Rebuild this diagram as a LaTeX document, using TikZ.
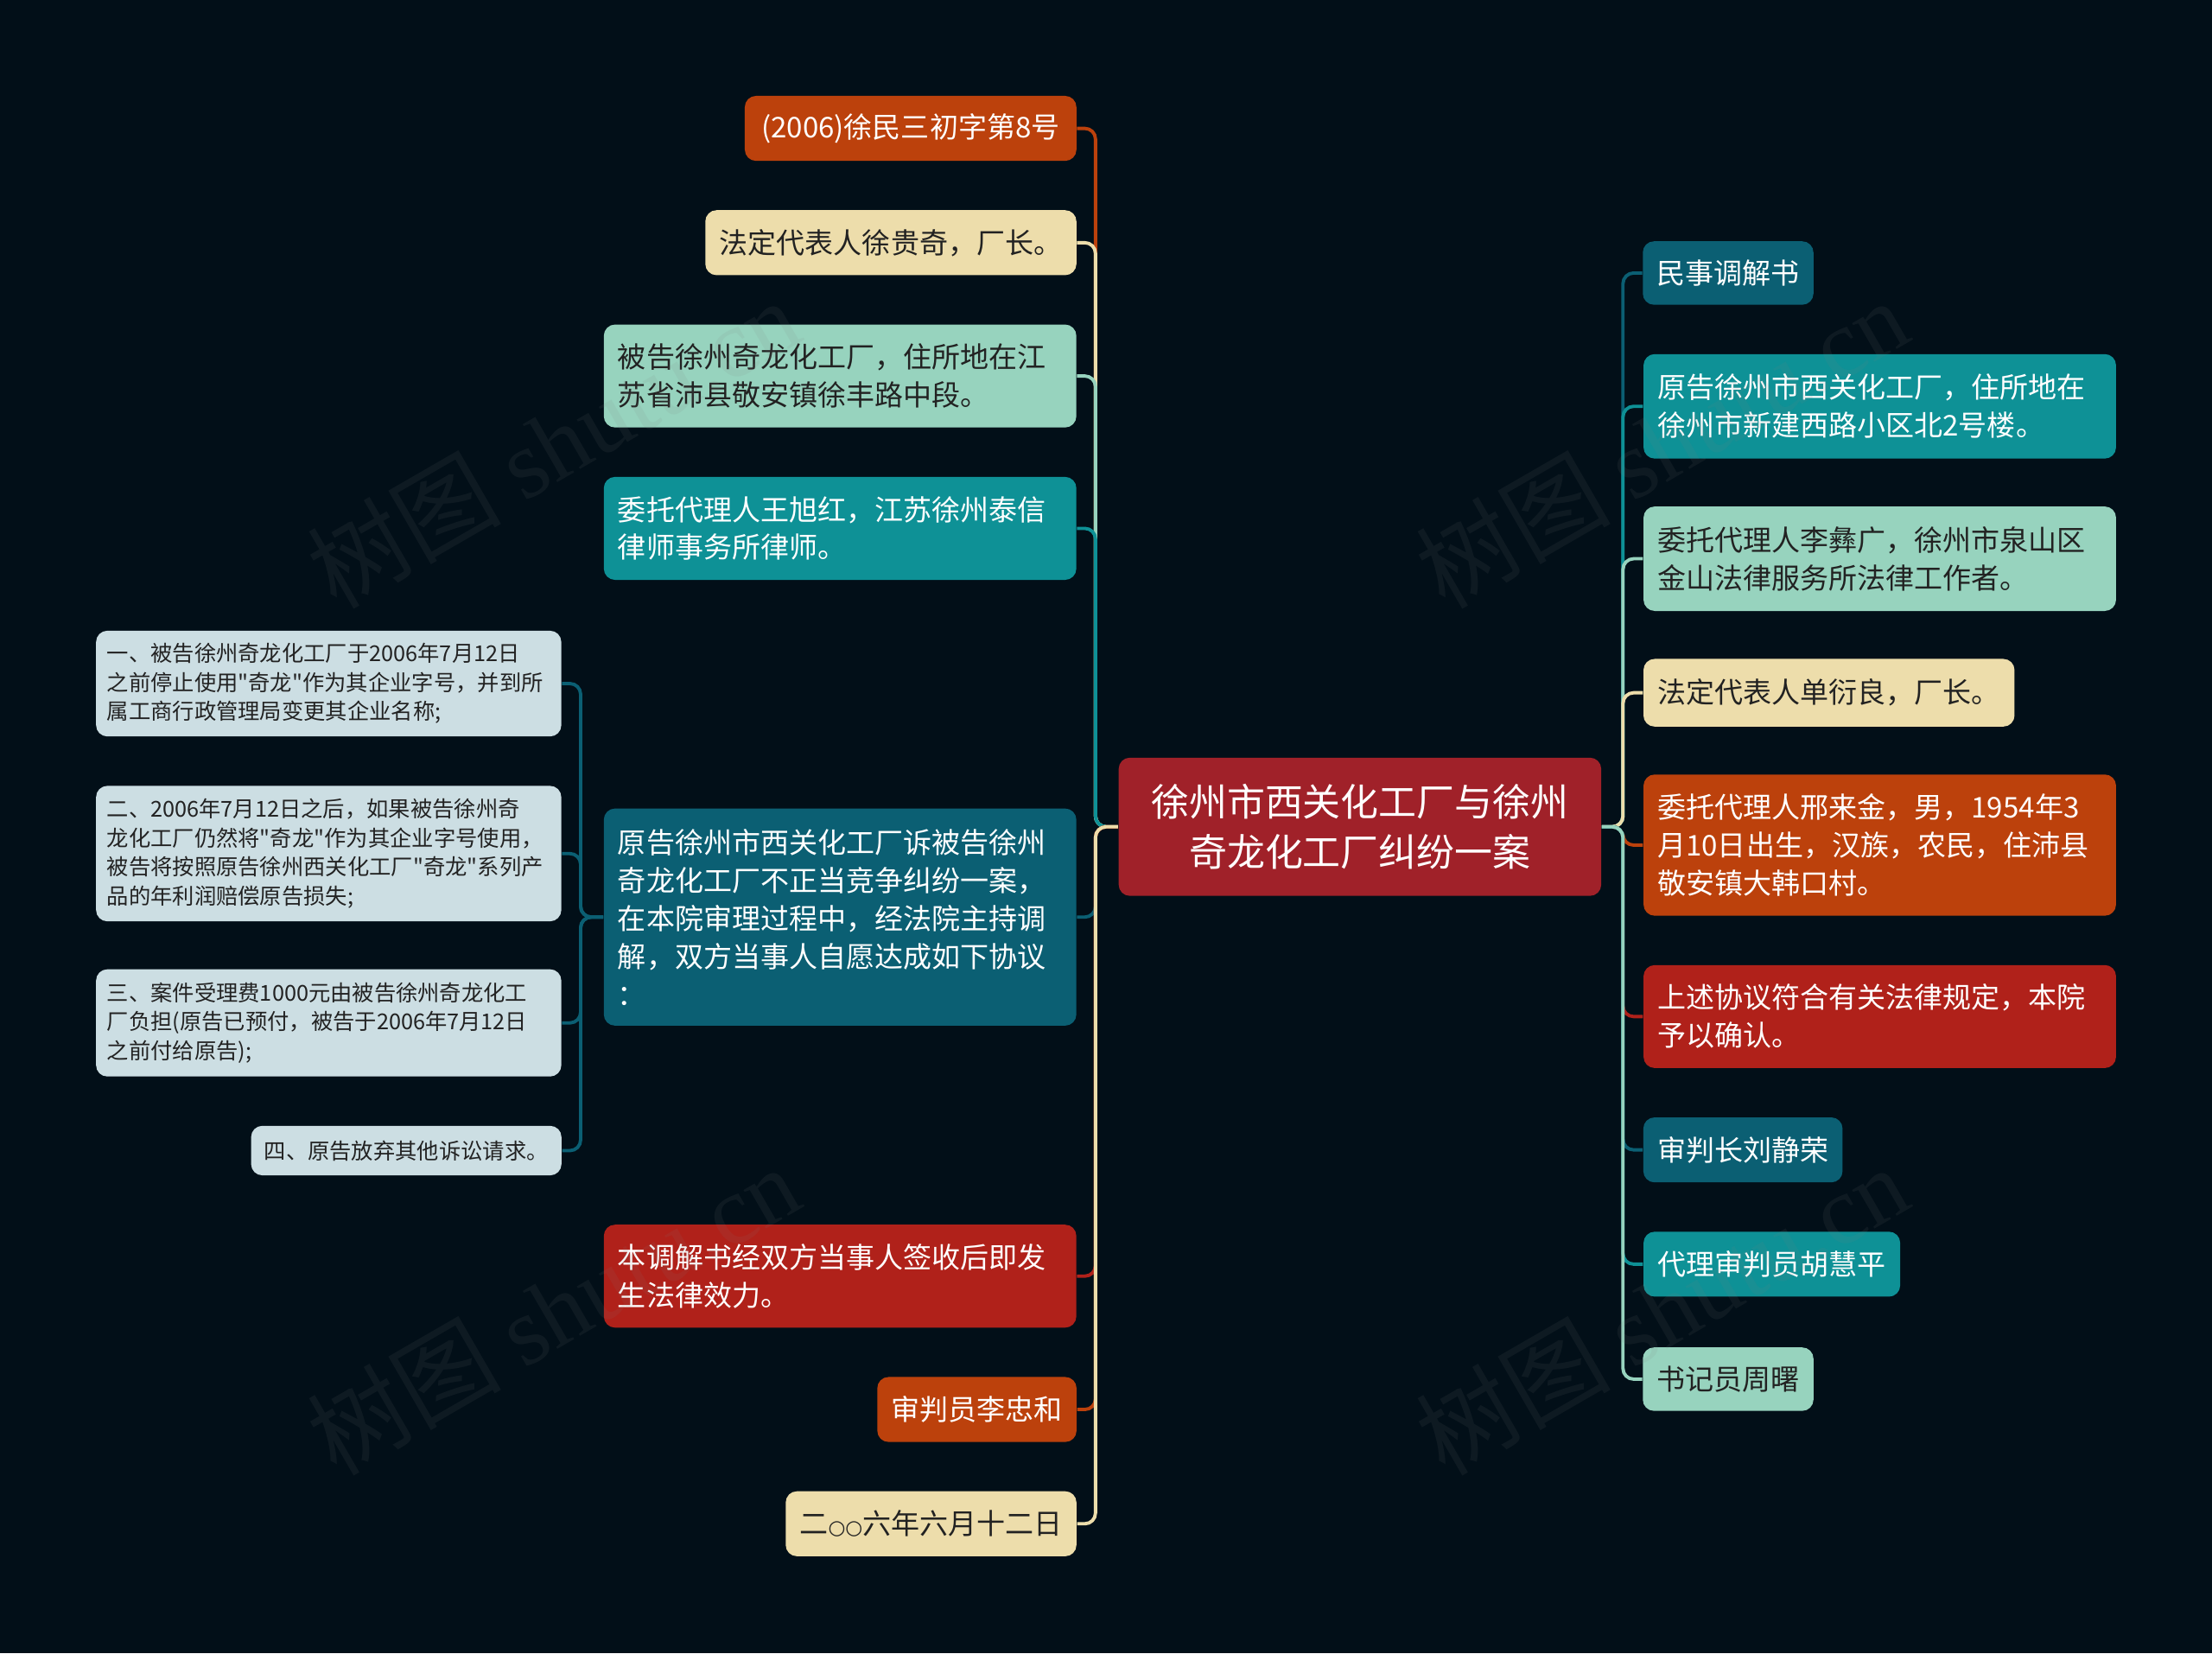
\documentclass[tikz,border=0pt]{standalone}
\usepackage{fontspec}
\setmainfont{Noto Sans CJK SC}
\newfontfamily\cjk{Noto Sans CJK SC}
\newfontfamily\wmfont{Liberation Serif}
\newfontfamily\symfont{DejaVu Sans}
\definecolor{cBg}{HTML}{020F18}
\definecolor{cOrange}{HTML}{BC410C}
\definecolor{cBeige}{HTML}{EDDDAB}
\definecolor{cMint}{HTML}{97D3BE}
\definecolor{cTeal}{HTML}{0E9196}
\definecolor{cDeep}{HTML}{0B5F73}
\definecolor{cRed}{HTML}{B0211A}
\definecolor{cCenter}{HTML}{A02129}
\definecolor{cGrey}{HTML}{CCDEE3}
\definecolor{cDark}{HTML}{222222}
\newcommand{\smallcirc}{{\symfont\fontsize{6.5pt}{6.5pt}\selectfont ○}}
\tikzset{
  base/.style={rounded corners=3.7pt, inner xsep=4.6pt, inner ysep=0pt,
    font=\cjk\fontsize{9.4pt}{12.5pt}\selectfont},
  multi/.style={text width=#1, align=left},
  fOrange/.style={fill=cOrange, text=white},
  fBeige/.style={fill=cBeige, text=cDark},
  fMint/.style={fill=cMint, text=cDark},
  fTeal/.style={fill=cTeal, text=white},
  fDeep/.style={fill=cDeep, text=white},
  fRed/.style={fill=cRed, text=white},
  sub/.style={rounded corners=3.7pt, inner xsep=3.6pt, inner ysep=0pt,
    fill=cGrey, text=cDark, font=\cjk\fontsize{7.2pt}{9.5pt}\selectfont},
  conn/.style={line width=1.1pt, rounded corners=3.5pt},
  wm/.style={rotate=30, text=gray, text opacity=0.1,
    font=\cjk\fontsize{32pt}{32pt}\selectfont}
}
\begin{document}
\begin{tikzpicture}[x=0.0163265cm, y=-0.0163265cm]
\fill[cBg] (0,0) rectangle (1568,1172);
\useasboundingbox (0,0) rectangle (1568,1172);

% center
\node[base, fill=cCenter, text=white, font=\cjk\fontsize{12.5pt}{16.7pt}\selectfont,
  align=center, minimum width=158.9pt, minimum height=45.5pt] (C) at (964,586)
  {徐州市西关化工厂与徐州\\奇龙化工厂纠纷一案};

% left branch
\node[base,fOrange,minimum width=109.2pt,minimum height=21.4pt] (L1) at (645.5,91) {(2006)徐民三初字第8号};
\node[base,fBeige,minimum width=122.2pt,minimum height=21.4pt] (L2) at (631.5,172) {法定代表人徐贵奇，厂长。};
\node[base,fMint,multi=146.4pt,minimum height=33.9pt] (L3) at (595.5,266.5) {被告徐州奇龙化工厂，住所地在江\\苏省沛县敬安镇徐丰路中段。};
\node[base,fTeal,multi=146.4pt,minimum height=33.9pt] (L4) at (595.5,374.5) {委托代理人王旭红，江苏徐州泰信\\律师事务所律师。};
\node[base,fDeep,multi=146.4pt,minimum height=71.5pt] (L5) at (595.5,650) {原告徐州市西关化工厂诉被告徐州\\奇龙化工厂不正当竞争纠纷一案，\\在本院审理过程中，经法院主持调\\解，双方当事人自愿达成如下协议\\：};
\node[base,fRed,multi=146.4pt,minimum height=33.9pt] (L6) at (595.5,904.5) {本调解书经双方当事人签收后即发\\生法律效力。};
\node[base,fOrange,minimum width=65.5pt,minimum height=21.4pt] (L7) at (692.5,999) {审判员李忠和};
\node[base,fBeige,minimum width=95.7pt,minimum height=21.4pt] (L8) at (660,1080) {二\smallcirc\smallcirc 六年六月十二日};

% agreement items
\node[sub,text width=146pt,align=left,minimum height=34.8pt] (S1) at (233,484.5) {一、被告徐州奇龙化工厂于2006年7月12日\\之前停止使用"奇龙"作为其企业字号，并到所\\属工商行政管理局变更其企业名称;};
\node[sub,text width=146pt,align=left,minimum height=44.6pt] (S2) at (233,605) {二、2006年7月12日之后，如果被告徐州奇\\龙化工厂仍然将"奇龙"作为其企业字号使用，\\被告将按照原告徐州西关化工厂"奇龙"系列产\\品的年利润赔偿原告损失;};
\node[sub,text width=146pt,align=left,minimum height=35.3pt] (S3) at (233,725) {三、案件受理费1000元由被告徐州奇龙化工\\厂负担(原告已预付，被告于2006年7月12日\\之前付给原告);};
\node[sub,minimum width=102.2pt,minimum height=16.3pt] (S4) at (288,815.5) {四、原告放弃其他诉讼请求。};

% right branch
\node[base,fDeep,minimum width=55.7pt,minimum height=20.9pt] (R1) at (1225,193.5) {民事调解书};
\node[base,fTeal,multi=146.4pt,minimum height=34.4pt] (R2) at (1332.5,288) {原告徐州市西关化工厂，住所地在\\徐州市新建西路小区北2号楼。};
\node[base,fMint,multi=146.4pt,minimum height=34.4pt] (R3) at (1332.5,396) {委托代理人李彝广，徐州市泉山区\\金山法律服务所法律工作者。};
\node[base,fBeige,minimum width=122.2pt,minimum height=22.3pt] (R4) at (1296.5,491) {法定代表人单衍良，厂长。};
\node[base,fOrange,multi=146.4pt,minimum height=46.5pt] (R5) at (1332.5,599) {委托代理人邢来金，男，1954年3\\月10日出生，汉族，农民，住沛县\\敬安镇大韩口村。};
\node[base,fRed,multi=146.4pt,minimum height=33.9pt] (R6) at (1332.5,720.5) {上述协议符合有关法律规定，本院\\予以确认。};
\node[base,fDeep,minimum width=65.5pt,minimum height=21.4pt] (R7) at (1235.5,815) {审判长刘静荣};
\node[base,fTeal,minimum width=84.5pt,minimum height=21.4pt] (R8) at (1256,896) {代理审判员胡慧平};
\node[base,fMint,minimum width=55.7pt,minimum height=20.9pt] (R9) at (1225,977.5) {书记员周曙};

% left connectors
\draw[conn,cOrange] (C.west) -- ++(-16,0) |- (L1.east);
\draw[conn,cBeige]  (C.west) -- ++(-16,0) |- (L2.east);
\draw[conn,cMint]   (C.west) -- ++(-16,0) |- (L3.east);
\draw[conn,cTeal]   (C.west) -- ++(-16,0) |- (L4.east);
\draw[conn,cDeep]   (C.west) -- ++(-16,0) |- (L5.east);
\draw[conn,cRed]    (C.west) -- ++(-16,0) |- (L6.east);
\draw[conn,cOrange] (C.west) -- ++(-16,0) |- (L7.east);
\draw[conn,cBeige]  (C.west) -- ++(-16,0) |- (L8.east);

% sub connectors
\draw[conn,cDeep] (L5.west) -- ++(-16,0) |- (S1.east);
\draw[conn,cDeep] (L5.west) -- ++(-16,0) |- (S2.east);
\draw[conn,cDeep] (L5.west) -- ++(-16,0) |- (S3.east);
\draw[conn,cDeep] (L5.west) -- ++(-16,0) |- (S4.east);

% right connectors
\draw[conn,cDeep]   (C.east) -- ++(15,0) |- (R1.west);
\draw[conn,cTeal]   (C.east) -- ++(15,0) |- (R2.west);
\draw[conn,cMint]   (C.east) -- ++(15,0) |- (R3.west);
\draw[conn,cBeige]  (C.east) -- ++(15,0) |- (R4.west);
\draw[conn,cOrange] (C.east) -- ++(15,0) |- (R5.west);
\draw[conn,cRed]    (C.east) -- ++(15,0) |- (R6.west);
\draw[conn,cDeep]   (C.east) -- ++(15,0) |- (R7.west);
\draw[conn,cTeal]   (C.east) -- ++(15,0) |- (R8.west);
\draw[conn,cMint]   (C.east) -- ++(15,0) |- (R9.west);

% watermarks
\node[wm] (W1) at (392,314) {树图 {\wmfont shutu.cn}};
\node[wm] (W2) at (1178,314) {树图 {\wmfont shutu.cn}};
\node[wm] (W3) at (392,928) {树图 {\wmfont shutu.cn}};
\node[wm] (W4) at (1178,928) {树图 {\wmfont shutu.cn}};
\end{tikzpicture}
\end{document}
